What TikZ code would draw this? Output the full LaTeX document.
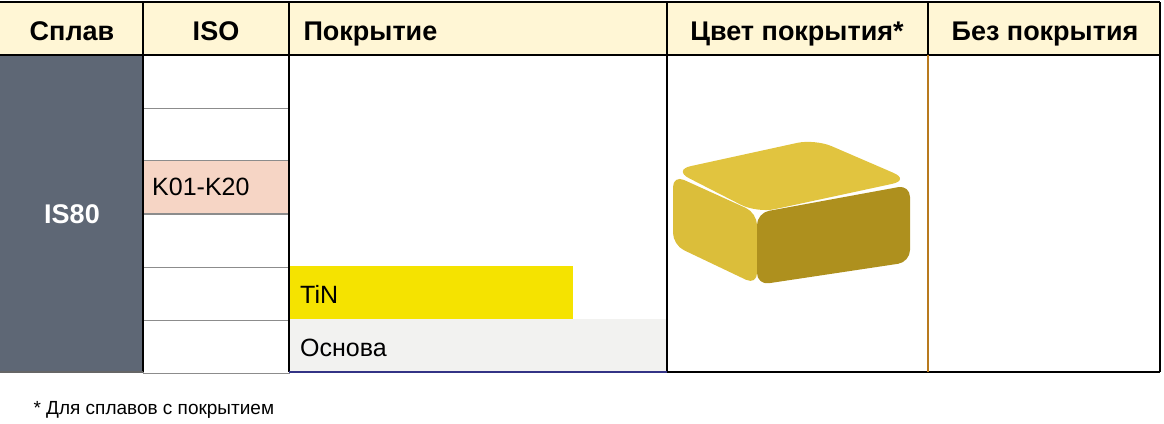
\documentclass[tikz,border=0pt]{standalone}
\usepackage{fontspec}
\setmainfont{Liberation Sans}
\usetikzlibrary{positioning}
\definecolor{headbg}{HTML}{FFF6D5}
\definecolor{slate}{HTML}{5E6775}
\definecolor{isopink}{HTML}{F6D5C5}
\definecolor{tinyel}{HTML}{F5E300}
\definecolor{basegray}{HTML}{F2F2F0}
\definecolor{sepor}{HTML}{B87A1E}
\definecolor{instop}{HTML}{E1C43F}
\definecolor{insleft}{HTML}{DBBE3A}
\definecolor{insright}{HTML}{AE901E}
\tikzset{
  head/.style = {font=\bfseries\fontsize{27}{30}\selectfont, anchor=base},
  cell/.style = {draw=black!45, line width=1.2pt, anchor=north west, inner sep=0pt, minimum width=146pt, minimum height=53pt},
  body/.style = {font=\fontsize{25}{28}\selectfont, anchor=west, inner sep=0pt}
}
\begin{document}
\begin{tikzpicture}[x=1pt,y=-1pt]
  \useasboundingbox (0,0) rectangle (1164,423);
  % header
  \fill[headbg] (0,2) rectangle (1160,55);
  \fill[slate] (0,55) rectangle (143,372);
  \node[head] (hsplav) at (72,40) {Сплав};
  \node[head] (hiso) at (216,40) {ISO};
  \node[head, anchor=base west] (hcoat) at (300,40) {Покрытие};
  \node[head] (hcolor) at (797,40) {Цвет покрытия*};
  \node[head] (hnone) at (1045,40) {Без покрытия};
  % iso cells
  \foreach \r in {0,...,5}
    \node[cell] (iso\r) at (143,55+53*\r) {};
  \node[cell, fill=isopink] (iso2) at (143,160) {};
  \node[body] (kk) at (152,187) {K01-K20};
  \node[font=\bfseries\fontsize{27}{30}\selectfont, white] (alloy) at (72,214) {IS80};
  % coatings
  \fill[tinyel] (290,266) rectangle (573,319);
  \fill[basegray] (290,319) rectangle (666,372);
  \node[body] (tin) at (300,294) {TiN};
  \node[body] (base) at (300,348) {Основа};
  % grid lines
  \draw[black, line width=1.5pt] (0,2) -- (1160,2) (0,55) -- (1160,55)
    (143,2) -- (143,372) (289,2) -- (289,372) (667,2) -- (667,372)
    (928,2) -- (928,55) (1160,2) -- (1160,372) (667,372) -- (1160,372);
  \draw[black!60, line width=1.5pt] (0,372) -- (143,372);
  \draw[blue!40!black!80, line width=1.5pt] (289,372) -- (667,372);
  \draw[sepor, line width=1.5pt] (928,55) -- (928,372);
  % insert
  \fill[insleft, rounded corners=12pt] (673,175) -- (757,213) -- (757,285) -- (673,245) -- cycle;
  \fill[insright, rounded corners=12pt] (757,213) -- (910,185) -- (910,262) -- (757,285) -- cycle;
  \fill[instop, rounded corners=18pt] (673,170) -- (815,139) -- (910,180) -- (757,213) -- cycle;
  \node[font=\fontsize{19}{22}\selectfont, anchor=west] (note) at (30,410) {* Для сплавов с покрытием};
\end{tikzpicture}
\end{document}
